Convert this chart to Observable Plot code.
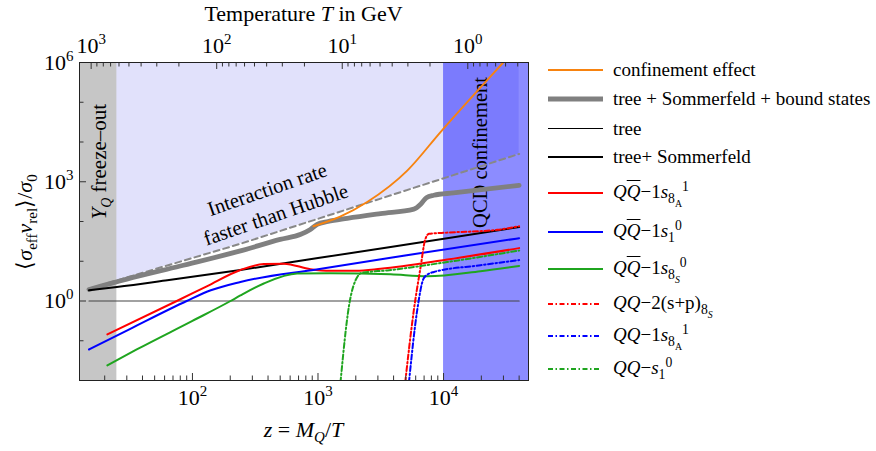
<!DOCTYPE html>
<html><head><meta charset="utf-8">
<script src="https://cdn.jsdelivr.net/npm/d3@7"></script>
<script src="https://cdn.jsdelivr.net/npm/@observablehq/plot@0.6"></script>
<style>
body{margin:0;background:#fff;}
#wrap{position:relative;width:876px;height:451px;font-family:"Liberation Serif",serif;overflow:hidden;}
.lt{position:absolute;left:613px;font-size:19px;line-height:19px;white-space:nowrap;color:#000;}
.lt sub,.lt sup{font-size:0.72em;line-height:0;}
.ov{text-decoration:overline;}
</style></head>
<body><div id="wrap"></div>
<script>
// ---- axis ranges and parameters ----
const zMin = 12.6, zMax = 47500;
const vMin = 0.01, vMax = 1e6;
const massGeV = 15600;
const freezeOutZ = 25;
const confinementZ = 10000;

// ---- series (z = M/T, value = <sigma v>/sigma0) ----
const treeZ = [15, 40000];
const treeV = [1, 1];
const hubbleZ = [15, 241, 40000];
const hubbleV = [2.04, 27.5, 5012];
const boundZ = [15, 30, 80, 241, 500, 730, 870, 985, 1200, 1710, 3150, 5800, 6600, 7300, 8360, 12000, 40000];
const boundV = [1.95, 3.55, 7.59, 18.2, 35.5, 47.9, 63.1, 85.1, 100, 120, 158, 204, 275, 398, 457, 525, 813];
const confZ = [920, 1500, 2465, 5140, 9460, 29900, 36000];
const confV = [75.9, 132, 309, 1905, 17780, 1e6, 1.9e6];
const sommZ = [15, 25, 63, 241, 1000, 3790, 40000];
const sommV = [1.86, 2.24, 3.31, 6.03, 12.0, 22.9, 72.4];
const redZ = [21, 75, 130, 241, 370, 535, 870, 1255, 2000, 3150, 10700, 40000];
const redV = [0.145, 1.0, 2.34, 6.03, 8.51, 8.71, 6.31, 5.75, 5.75, 6.46, 11.0, 21.4];
const blueZ = [15, 32, 90, 140, 241, 1000, 3790, 40000];
const blueV = [0.0603, 0.2, 1.0, 1.86, 3.02, 6.31, 12.3, 38.0];
const greenZ = [21, 36, 100, 201, 241, 370, 682, 1255, 3790, 7410, 19700, 40000];
const greenV = [0.024, 0.0603, 0.316, 1.0, 1.38, 2.75, 4.90, 5.01, 4.68, 4.17, 5.62, 7.59];
const redQQZ = [4950, 5800, 6560, 7150, 7650, 10700, 26800, 40000];
const redQQV = [0.0089, 0.589, 7.08, 35.5, 49.0, 52.5, 61.7, 75.9];
const blueQQZ = [5300, 6170, 6900, 7400, 8380, 19700, 40000];
const blueQQV = [0.0089, 0.589, 3.55, 4.57, 5.37, 7.94, 10.7];
const greenQQZ = [1510, 1760, 2050, 2250, 3550, 10700, 40000];
const greenQQV = [0.0089, 0.708, 3.98, 5.13, 5.89, 9.55, 18.6];

// ---- ticks ----
const xMajorTicks = [100, 1000, 10000];
const xMinorTicks = [20,30,40,50,60,70,80,90,200,300,400,500,600,700,800,900,2000,3000,4000,5000,6000,7000,8000,9000,20000,30000,40000];
const tempMajorTicks = [1000, 100, 10, 1];
const tempMinorTicks = [900,800,700,600,500,400,300,200,90,80,70,60,50,40,30,20,9,8,7,6,5,4,3,2,0.9,0.8,0.7,0.6,0.5,0.4];
const yMajorTicks = [1, 1e3, 1e6];
const yMinorTicks = [0.1, 10, 100, 1e4, 1e5];

// ---- annotations ----
const freezeLabel = {z: 18.2, v: 3200, text: "Y_Q freeze–out"};
const qcdLabel = {z: 19700, v: 5450, text: "QCD confinement"};
const hubbleLabel = {z: 422, v: 339, text: "Interaction rate\nfaster than Hubble"};

// ---- legend ----
const dd = "5,2.5,1.5,2.5";
const legendItems = [
  {html: "confinement effect", stroke: "#f7830f", w: 2},
  {html: "tree + Sommerfeld + bound states", stroke: "#808080", w: 5},
  {html: "tree", stroke: "#000", w: 1},
  {html: "tree+ Sommerfeld", stroke: "#000", w: 2},
  {html: '<i>Q</i><i class="ov">Q</i>−1<i>s</i><sub>8<sub>A</sub></sub><sup>1</sup>', stroke: "#ff0000", w: 2, math: true},
  {html: '<i>Q</i><i class="ov">Q</i>−1<i>s</i><sub>1</sub><sup>0</sup>', stroke: "#0000ff", w: 2, math: true},
  {html: '<i>Q</i><i class="ov">Q</i>−1<i>s</i><sub>8<sub><i>S</i></sub></sub><sup>0</sup>', stroke: "#1fa51f", w: 2, math: true},
  {html: '<i>QQ</i>−2(s+p)<sub>8<sub><i>S</i></sub></sub>', stroke: "#ff0000", w: 2, dash: dd, math: true},
  {html: '<i>QQ</i>−1<i>s</i><sub>8<sub>A</sub></sub><sup>1</sup>', stroke: "#0000ff", w: 2, dash: dd, math: true},
  {html: '<i>QQ</i>−<i>s</i><sub>1</sub><sup>0</sup>', stroke: "#1fa51f", w: 2, dash: dd, math: true}
];
const legendRowY = [70, 99, 128.5, 157, 193, 232, 269, 304, 336, 369];

// ---- build tables ----
const table = (zs, vs) => zs.map((z, i) => ({z, v: vs[i]}));
const W = 540, H = 451, mL = 79, mR = 12, mT = 62, mB = 71;
const frameW = W - mL - mR, frameH = H - mT - mB;
const pow10 = v => "10^" + Math.round(Math.log10(v));

const lineOpts = (stroke, w, extra = {}) => ({x: "z", y: "v", stroke, strokeWidth: w, curve: "monotone-x", clip: true, ...extra});

const plot = Plot.plot({
  width: W, height: H,
  marginLeft: mL, marginRight: mR, marginTop: mT, marginBottom: mB,
  x: {type: "log", domain: [zMin, zMax]},
  y: {type: "log", domain: [vMin, vMax]},
  style: {fontFamily: '"Liberation Serif", serif', fontSize: "22px", color: "#000", background: "transparent", overflow: "visible"},
  marks: [
    Plot.areaY(table(hubbleZ, hubbleV), {x: "z", y1: "v", y2: vMax, fill: "#e1e1fb", curve: "linear"}),
    Plot.rect([{x1: zMin, x2: freezeOutZ}], {x1: "x1", x2: "x2", fill: "#c6c6c6"}),
    Plot.rect([{x1: confinementZ, x2: zMax}], {x1: "x1", x2: "x2", fill: "#0000ff", fillOpacity: 0.45}),
    Plot.text([freezeLabel], {x: "z", y: "v", text: "text", rotate: -90, fontSize: 21}),
    Plot.text([qcdLabel], {x: "z", y: "v", text: "text", rotate: -90, fontSize: 20.5}),
    Plot.text([hubbleLabel], {x: "z", y: "v", text: "text", rotate: -19, fontSize: 20.5, lineHeight: 1.3}),
    Plot.line(table(treeZ, treeV), lineOpts("#444", 1.2)),
    Plot.line(table(hubbleZ, hubbleV), lineOpts("#888", 2, {strokeDasharray: "6,4", curve: "linear"})),
    Plot.line(table(boundZ, boundV), lineOpts("#808080", 4.8)),
    Plot.line(table(confZ, confV), lineOpts("#f7830f", 1.9)),
    Plot.line(table(sommZ, sommV), lineOpts("#000", 2)),
    Plot.line(table(redZ, redV), lineOpts("#ff0000", 2)),
    Plot.line(table(blueZ, blueV), lineOpts("#0000ff", 2)),
    Plot.line(table(greenZ, greenV), lineOpts("#1fa51f", 2)),
    Plot.line(table(redQQZ, redQQV), lineOpts("#ff0000", 2, {strokeDasharray: dd})),
    Plot.line(table(blueQQZ, blueQQV), lineOpts("#0000ff", 2, {strokeDasharray: dd})),
    Plot.line(table(greenQQZ, greenQQV), lineOpts("#1fa51f", 2, {strokeDasharray: dd})),
    // inward ticks
    Plot.ruleX(xMinorTicks, {x: d => d, insetTop: frameH - 4.5, stroke: "#333"}),
    Plot.ruleX(xMajorTicks, {x: d => d, insetTop: frameH - 7, stroke: "#333"}),
    Plot.ruleX(tempMinorTicks, {x: T => massGeV / T, insetBottom: frameH - 4.5, stroke: "#333"}),
    Plot.ruleX(tempMajorTicks, {x: T => massGeV / T, insetBottom: frameH - 7, stroke: "#333"}),
    Plot.ruleY(yMinorTicks, {y: d => d, insetRight: frameW - 4.5, stroke: "#333"}),
    Plot.ruleY(yMajorTicks, {y: d => d, insetRight: frameW - 7, stroke: "#333"}),
    Plot.axisX({anchor: "bottom", ticks: xMajorTicks, tickSize: 0, tickPadding: 9, tickFormat: pow10, label: null}),
    Plot.axisX({anchor: "top", ticks: tempMajorTicks.map(T => massGeV / T), tickSize: 0, tickPadding: 10, tickFormat: z => pow10(massGeV / z), label: null}),
    Plot.axisY({anchor: "left", ticks: yMajorTicks, tickSize: 0, tickPadding: 6, tickFormat: pow10, label: null}),
    Plot.frame({stroke: "#222", strokeWidth: 1})
  ]
});

// rich text post-processing
d3.select(plot).selectAll("text").each(function() {
  const t = this.textContent;
  const m = /^10\^(-?\d+)$/.exec(t);
  if (m) {
    this.innerHTML = `10<tspan font-size="15" dy="-9">${m[1]}</tspan>`;
  } else if (t === freezeLabel.text) {
    this.innerHTML = `<tspan font-style="italic">Y</tspan><tspan font-style="italic" font-size="14" dy="5">Q</tspan><tspan dy="-5"> freeze–out</tspan>`;
  }
});

const svg = d3.select(plot);
const cx = mL + frameW / 2;
svg.append("text").attr("x", cx).attr("y", 20.5).attr("text-anchor", "middle").attr("font-size", 22)
  .html(`Temperature <tspan font-style="italic">T</tspan> in GeV`);
svg.append("text").attr("x", cx).attr("y", 437).attr("text-anchor", "middle").attr("font-size", 22)
  .html(`<tspan font-style="italic">z</tspan> = <tspan font-style="italic">M</tspan><tspan font-style="italic" font-size="15" dy="5">Q</tspan><tspan dy="-5">/</tspan><tspan font-style="italic">T</tspan>`);
svg.append("text").attr("transform", "translate(32,222) rotate(-90)").attr("text-anchor", "middle").attr("font-size", 22)
  .html(`⟨<tspan font-style="italic">σ</tspan><tspan font-size="15" dy="5">eff</tspan><tspan dy="-5" font-style="italic">v</tspan><tspan font-size="15" dy="5">rel</tspan><tspan dy="-5">⟩/</tspan><tspan font-style="italic">σ</tspan><tspan font-size="15" dy="5">0</tspan>`);

const wrap = document.getElementById("wrap");
wrap.appendChild(plot);
plot.style.position = "absolute"; plot.style.left = "0"; plot.style.top = "0";

// legend
const lg = d3.select(wrap).append("svg").attr("width", 336).attr("height", 451)
  .style("position", "absolute").style("left", "540px").style("top", "0");
legendItems.forEach((it, i) => {
  const y = legendRowY[i];
  lg.append("line").attr("x1", 8).attr("x2", it.dash ? 59 : 63).attr("y1", y).attr("y2", y)
    .attr("stroke", it.stroke).attr("stroke-width", it.w).attr("stroke-dasharray", it.dash || null);
  const baseline = Math.round(y) + (it.math ? 5 : 5.5);
  const div = document.createElement("div");
  div.className = "lt";
  div.style.top = (baseline - 15.9) + "px";
  div.innerHTML = it.html;
  wrap.appendChild(div);
});
</script></body></html>
